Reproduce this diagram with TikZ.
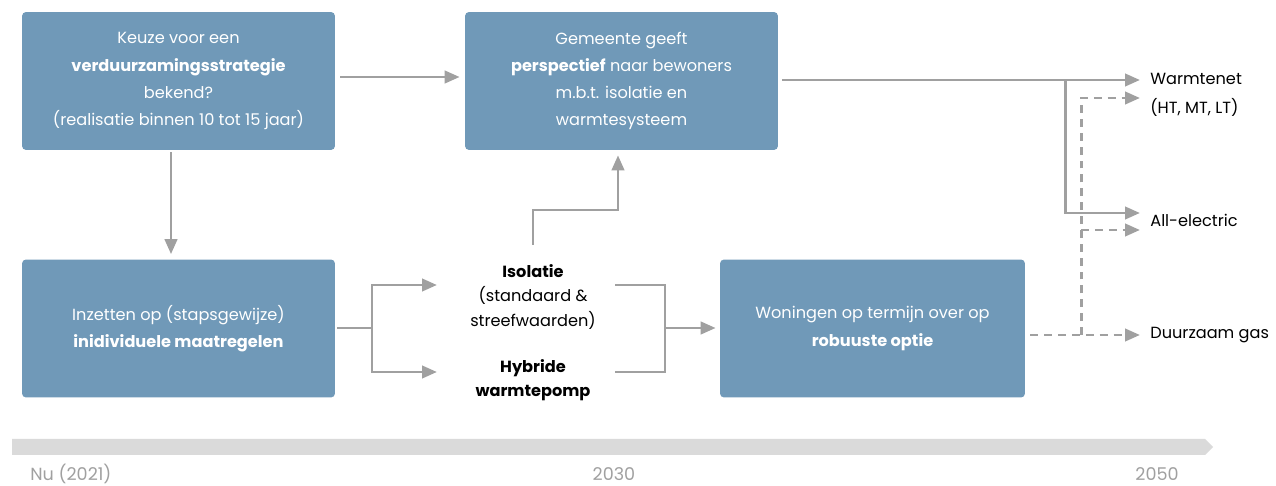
\documentclass[tikz,border=0pt]{standalone}
\usepackage{fontspec}
\setmainfont{Poppins}
\usetikzlibrary{arrows.meta}
\definecolor{boxblue}{HTML}{7099B8}
\definecolor{linegray}{HTML}{A0A0A0}
\definecolor{bandgray}{HTML}{DADADA}
\begin{document}
\begin{tikzpicture}[x=0.02cm,y=-0.02cm,
  box/.style={fill=boxblue,rounded corners=0.08cm,text=white,align=center,
    minimum width=6.26cm,minimum height=2.76cm,inner sep=0pt,
    font=\fontsize{9.2}{15.4}\selectfont},
  arr/.style={draw=linegray,line width=1.7pt,-{Triangle[length=8.5pt,width=7pt]}},
  conn/.style={draw=linegray,line width=1.7pt},
  dashline/.style={dash pattern=on 4.5pt off 3.4pt},
  plain/.style={align=center,font=\fontsize{9.2}{14}\selectfont},
  outlbl/.style={anchor=west,inner sep=0pt,font=\fontsize{9.2}{14}\selectfont},
  year/.style={text=linegray,inner sep=0pt,anchor=base,font=\fontsize{10}{12}\selectfont}]
\useasboundingbox (0,0) rectangle (1276,486);
\node [box] (keuze) at (178.5,81) {Keuze voor een\\\textbf{verduurzamingsstrategie}\\bekend?\\(realisatie binnen 10 tot 15 jaar)};
\node [box] (perspectief) at (621.5,81) {Gemeente geeft\\\textbf{perspectief} naar bewoners\\m.b.t. isolatie en\\warmtesysteem};
\node [box] (inzetten) at (178.5,328.5) {Inzetten op (stapsgewijze)\\\textbf{inidividuele maatregelen}};
\node [box,minimum width=6.1cm] (woningen) at (872.5,328.5) {Woningen op termijn over op\\\textbf{robuuste optie}};
\node [plain] (isolatie) at (533,297) {\textbf{Isolatie}\\(standaard \&\\streefwaarden)};
\node [plain] (hybride) at (533,380) {\textbf{Hybride}\\\textbf{warmtepomp}};
\node [outlbl] (warmtenet) at (1150,79) {Warmtenet};
\node [outlbl] (htmtlt) at (1150,107) {(HT, MT, LT)};
\node [outlbl] (electric) at (1150,220) {All-electric};
\node [outlbl] (gas) at (1150,335) {Duurzaam gas};
\coordinate (splitL) at (372,328);
\coordinate (splitR) at (665,328);
\coordinate (isoIn) at (437,285);
\coordinate (hybIn) at (437,372);
\coordinate (isoOut) at (615,285);
\coordinate (hybOut) at (615,372);
\coordinate (isoUp) at (533,245);
\coordinate (stepUp) at (618,210);
\coordinate (branch) at (1065,80);
\coordinate (dashTop) at (1140,98);
\coordinate (dashMid) at (1140,230);
\coordinate (dashBot) at (1081,335);
\draw [arr,shorten <=0.1cm,shorten >=0.1cm] (keuze.east |- 0,77) -- (perspectief.west |- 0,77);
\draw [arr,shorten <=0.04cm,shorten >=0.1cm] (keuze.south -| 171,0) -- (inzetten.north -| 171,0);
\draw [conn,shorten <=0.04cm] (inzetten.east |- splitL) -- (splitL);
\draw [arr] (splitL) |- (isoIn);
\draw [arr] (splitL) |- (hybIn);
\draw [conn] (isoOut) -| (splitR) |- (hybOut);
\draw [arr,shorten >=0.08cm] (splitR) -- (woningen.west |- splitR);
\draw [arr,shorten >=0.1cm] (isoUp) -- (533,210) -| (stepUp) -- (perspectief.south -| stepUp);
\draw [arr,shorten <=0.08cm] (perspectief.east |- branch) -- (1140,80);
\draw [arr] (branch) |- (1140,213);
\draw [arr,dashline,shorten <=0.1cm] (woningen.east |- gas) -- (1140,335);
\draw [arr,dashline] (dashBot) |- (dashTop);
\draw [arr,dashline] (dashBot |- dashMid) -- (dashMid);
\fill [bandgray] (12,439) -- (1205,439) -- (1213,447) -- (1205,455) -- (12,455) -- cycle;
\node [year,anchor=base west] (nu) at (30,480) {Nu (2021)};
\node [year] (y2030) at (614,480) {2030};
\node [year] (y2050) at (1157,480) {2050};
\end{tikzpicture}
\end{document}
